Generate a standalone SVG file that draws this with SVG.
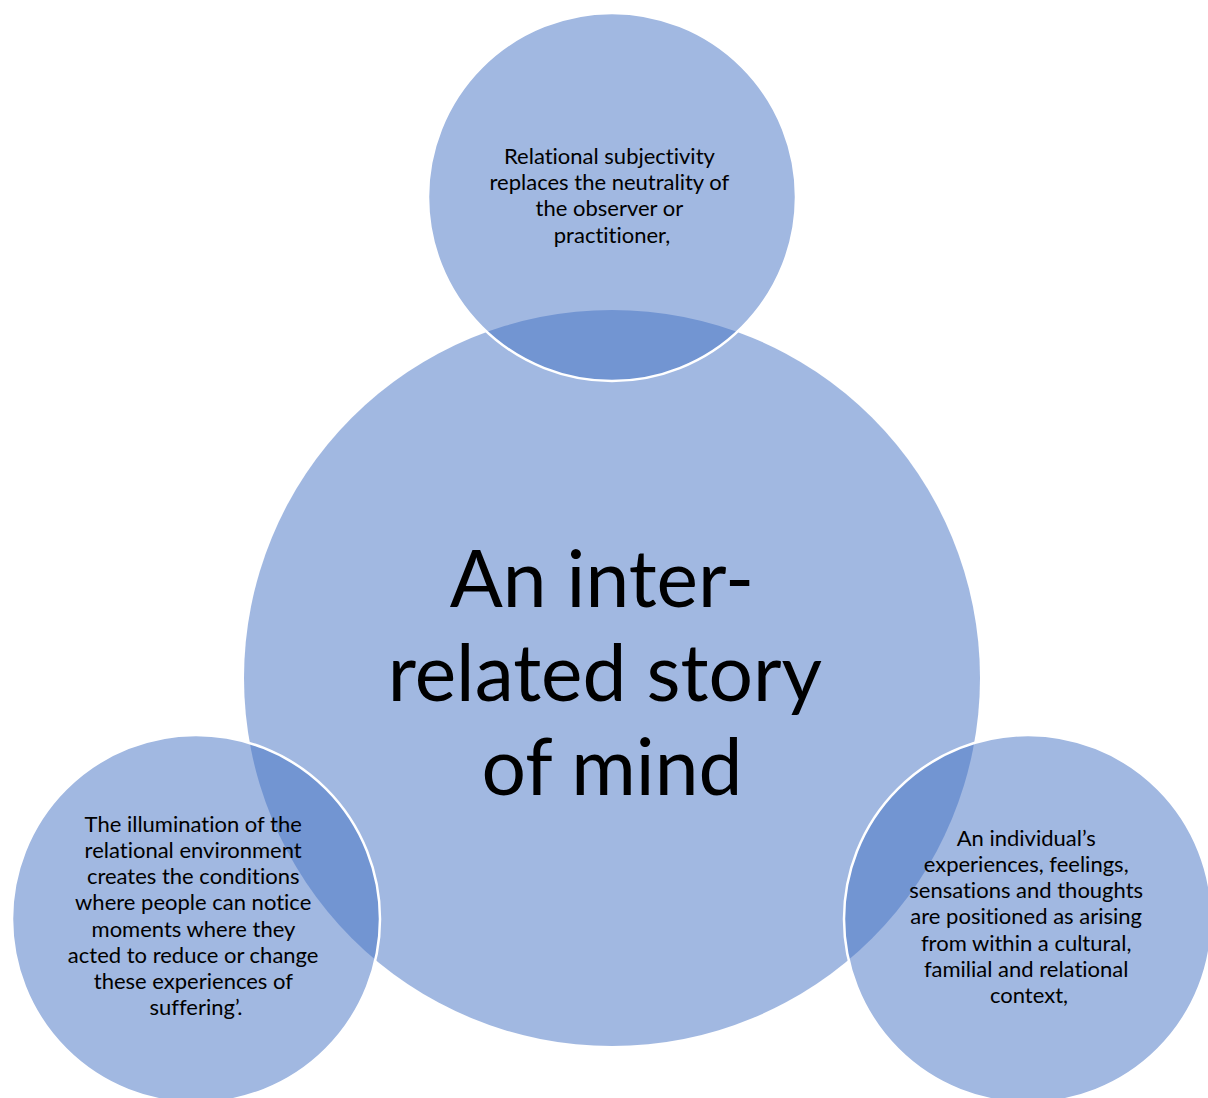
<svg xmlns="http://www.w3.org/2000/svg" width="1208" height="1098" viewBox="0 0 1208 1098">
  <style>
    .disc { fill: #4472C4; fill-opacity: 0.5; }
    .sat { stroke: #FFFFFF; stroke-width: 2.5; }
    .lbl { font-family: Lato, "Liberation Sans", sans-serif; font-size: 22px; fill: #000000; text-anchor: middle; font-variant-ligatures: none; }
    .hub { font-family: Lato, "Liberation Sans", sans-serif; font-size: 78.5px; fill: #000000; text-anchor: middle; font-variant-ligatures: none; }
  </style>
  <rect width="1208" height="1098" fill="#FFFFFF"/>

  <!-- central circle -->
  <g id="node-center">
    <circle class="disc" cx="612" cy="678" r="368"/>
    <text class="hub">
      <tspan x="612" y="607">An inter-</tspan>
      <tspan x="614" y="701">related story</tspan>
      <tspan x="612" y="795">of mind</tspan>
    </text>
  </g>

  <!-- top satellite -->
  <g id="node-top">
    <circle class="disc sat" cx="612" cy="197" r="184"/>
    <text class="lbl">
      <tspan x="612" y="164">Relational subjectivity</tspan>
      <tspan x="612" y="190.2">replaces the neutrality of</tspan>
      <tspan x="612" y="216.4">the observer or</tspan>
      <tspan x="612" y="242.6">practitioner,</tspan>
    </text>
  </g>

  <!-- lower right satellite -->
  <g id="node-right">
    <circle class="disc sat" cx="1028" cy="919" r="184"/>
    <text class="lbl">
      <tspan x="1029" y="845.7">An individual’s</tspan>
      <tspan x="1029" y="871.9">experiences, feelings,</tspan>
      <tspan x="1029" y="898.1">sensations and thoughts</tspan>
      <tspan x="1029" y="924.3">are positioned as arising</tspan>
      <tspan x="1029" y="950.5">from within a cultural,</tspan>
      <tspan x="1029" y="976.7">familial and relational</tspan>
      <tspan x="1029" y="1002.9">context,</tspan>
    </text>
  </g>

  <!-- lower left satellite -->
  <g id="node-left">
    <circle class="disc sat" cx="196" cy="919" r="184"/>
    <text class="lbl">
      <tspan x="196" y="831.7">The illumination of the</tspan>
      <tspan x="196" y="857.9">relational environment</tspan>
      <tspan x="196" y="884.1">creates the conditions</tspan>
      <tspan x="196" y="910.3">where people can notice</tspan>
      <tspan x="196" y="936.5">moments where they</tspan>
      <tspan x="196" y="962.7">acted to reduce or change</tspan>
      <tspan x="196" y="988.9">these experiences of</tspan>
      <tspan x="196" y="1015.1">suffering’.</tspan>
    </text>
  </g>
</svg>
